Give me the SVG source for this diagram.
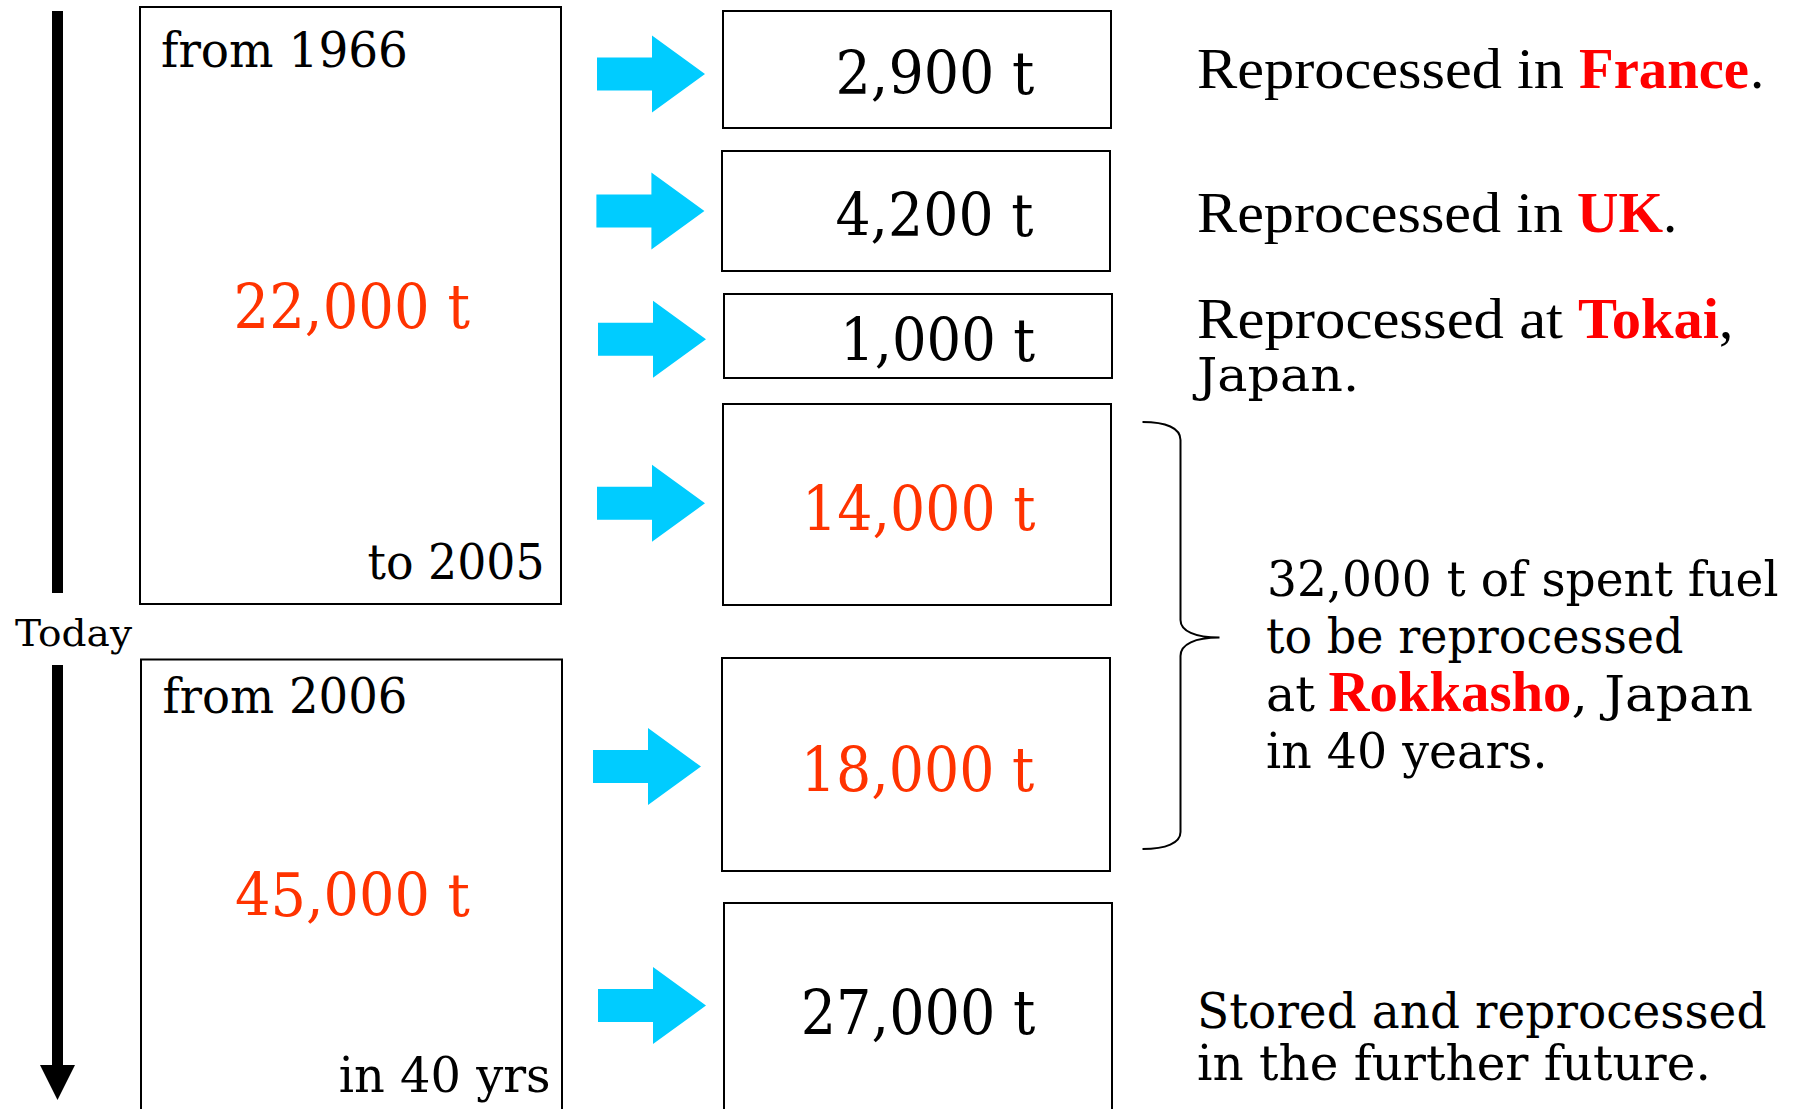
<svg xmlns="http://www.w3.org/2000/svg" width="1797" height="1109" viewBox="0 0 1797 1109">
<style>
  .box { fill: #fff; stroke: #000; stroke-width: 2; }
  .t { font-family: "DejaVu Serif", "Liberation Serif", serif; fill: #000; }
  .big { font-size: 60px; }
  .mid { font-size: 49px; }
  .side { font-family: "Liberation Serif", "Times New Roman", serif; font-size: 57px; fill: #000; }
  .redw { font-family: "Liberation Serif", "Times New Roman", serif; font-weight: bold; font-size: 56px; fill: #ff0000; }
  .num { fill: #ff3300; }
  .blue { fill: #00ccff; }
  .brace { fill: none; stroke: #000; stroke-width: 2; }
</style>
<defs>
  <polygon id="barrow" points="0,-16.5 55,-16.5 55,-38.5 108,0 55,38.5 55,16.5 0,16.5"/>
</defs>
<rect width="1797" height="1109" fill="#fff"/>

<g id="timeline">
  <rect x="52" y="11" width="11" height="582" fill="#000"/>
  <text class="t" x="15" y="646" font-size="38" textLength="117" lengthAdjust="spacingAndGlyphs">Today</text>
  <rect x="52" y="665" width="11" height="402" fill="#000"/>
  <polygon points="40,1065 75,1065 57.5,1100" fill="#000"/>
</g>

<g id="node-past">
  <rect class="box" x="140" y="7" width="421" height="597"/>
  <text class="t mid" x="161" y="67" textLength="247" lengthAdjust="spacingAndGlyphs">from 1966</text>
  <text class="t num" x="233.5" y="327.5" font-size="62" textLength="236.5" lengthAdjust="spacingAndGlyphs">22,000 t</text>
  <text class="t mid" x="367.5" y="579" textLength="177" lengthAdjust="spacingAndGlyphs">to 2005</text>
</g>

<g id="node-future">
  <rect class="box" x="141" y="659.5" width="421" height="470"/>
  <text class="t mid" x="162.5" y="712.7" textLength="245" lengthAdjust="spacingAndGlyphs">from 2006</text>
  <text class="t big num" x="235" y="916" textLength="235" lengthAdjust="spacingAndGlyphs">45,000 t</text>
  <text class="t mid" x="338.7" y="1091.7" textLength="212" lengthAdjust="spacingAndGlyphs">in 40 yrs</text>
</g>

<g id="connectors">
  <use href="#barrow" class="blue" transform="translate(597,74)"/>
  <use href="#barrow" class="blue" transform="translate(596.4,211)"/>
  <use href="#barrow" class="blue" transform="translate(598,339.3)"/>
  <use href="#barrow" class="blue" transform="translate(597,503.3)"/>
  <use href="#barrow" class="blue" transform="translate(593,766.6)"/>
  <use href="#barrow" class="blue" transform="translate(598,1005.6)"/>
  <path class="brace" d="M1142.5,422 C1166,422 1180.5,428 1180.5,440 L1180.5,620 C1180.5,631 1195,637.6 1219.5,637.6 C1195,637.6 1180.5,644 1180.5,656 L1180.5,832 C1180.5,843 1166,849 1142.5,849"/>
</g>

<g id="node-france">
  <rect class="box" x="723" y="11" width="388" height="117"/>
  <text class="t big" x="835.4" y="94" textLength="199" lengthAdjust="spacingAndGlyphs">2,900 t</text>
</g>
<g id="node-uk">
  <rect class="box" x="722" y="151" width="388" height="120"/>
  <text class="t big" x="835.4" y="236" textLength="198" lengthAdjust="spacingAndGlyphs">4,200 t</text>
</g>
<g id="node-tokai">
  <rect class="box" x="724" y="294" width="388" height="84"/>
  <text class="t big" x="840" y="361" textLength="195" lengthAdjust="spacingAndGlyphs">1,000 t</text>
</g>
<g id="node-rokkasho-past">
  <rect class="box" x="723" y="404" width="388" height="201"/>
  <text class="t num" x="802" y="530" font-size="62" textLength="233.4" lengthAdjust="spacingAndGlyphs">14,000 t</text>
</g>
<g id="node-rokkasho-future">
  <rect class="box" x="722" y="658" width="388" height="213"/>
  <text class="t num" x="800.7" y="790.5" font-size="62" textLength="233.6" lengthAdjust="spacingAndGlyphs">18,000 t</text>
</g>
<g id="node-stored">
  <rect class="box" x="724" y="903" width="388" height="230"/>
  <text class="t" x="800.7" y="1033.6" font-size="62" textLength="234.7" lengthAdjust="spacingAndGlyphs">27,000 t</text>
</g>

<g id="label-france">
  <text class="side" x="1197" y="88.3" textLength="367" lengthAdjust="spacingAndGlyphs">Reprocessed in</text>
  <text class="redw" x="1579" y="88.3" textLength="170" lengthAdjust="spacingAndGlyphs">France</text>
  <text class="side" x="1750" y="88.3">.</text>
</g>
<g id="label-uk">
  <text class="side" x="1197" y="231.7" textLength="366" lengthAdjust="spacingAndGlyphs">Reprocessed in</text>
  <text class="redw" x="1577" y="231.7" textLength="86" lengthAdjust="spacingAndGlyphs">UK</text>
  <text class="side" x="1663" y="231.7">.</text>
</g>
<g id="label-tokai">
  <text class="side" x="1197" y="338" textLength="366" lengthAdjust="spacingAndGlyphs">Reprocessed at</text>
  <text class="redw" x="1578" y="338" textLength="141" lengthAdjust="spacingAndGlyphs">Tokai</text>
  <text class="side" x="1719" y="338">,</text>
  <text class="t" x="1197" y="390.5" font-size="47" textLength="162" lengthAdjust="spacingAndGlyphs">Japan.</text>
</g>
<g id="label-rokkasho">
  <text class="t mid" x="1267" y="595.5" textLength="511.5" lengthAdjust="spacingAndGlyphs">32,000 t of spent fuel</text>
  <text class="t mid" x="1266" y="652.5" textLength="417.5" lengthAdjust="spacingAndGlyphs">to be reprocessed</text>
  <text class="t mid" x="1266" y="711.3" textLength="49" lengthAdjust="spacingAndGlyphs">at</text>
  <text class="redw" x="1328.5" y="711.3" textLength="243" lengthAdjust="spacingAndGlyphs">Rokkasho</text>
  <text class="t mid" x="1571.5" y="711.3" textLength="181.5" lengthAdjust="spacingAndGlyphs">, Japan</text>
  <text class="t mid" x="1266" y="767.9" textLength="281.5" lengthAdjust="spacingAndGlyphs">in 40 years.</text>
</g>
<g id="label-stored">
  <text class="t mid" x="1197" y="1028" textLength="569.5" lengthAdjust="spacingAndGlyphs">Stored and reprocessed</text>
  <text class="t mid" x="1197" y="1079.6" textLength="513.8" lengthAdjust="spacingAndGlyphs">in the further future.</text>
</g>
</svg>
